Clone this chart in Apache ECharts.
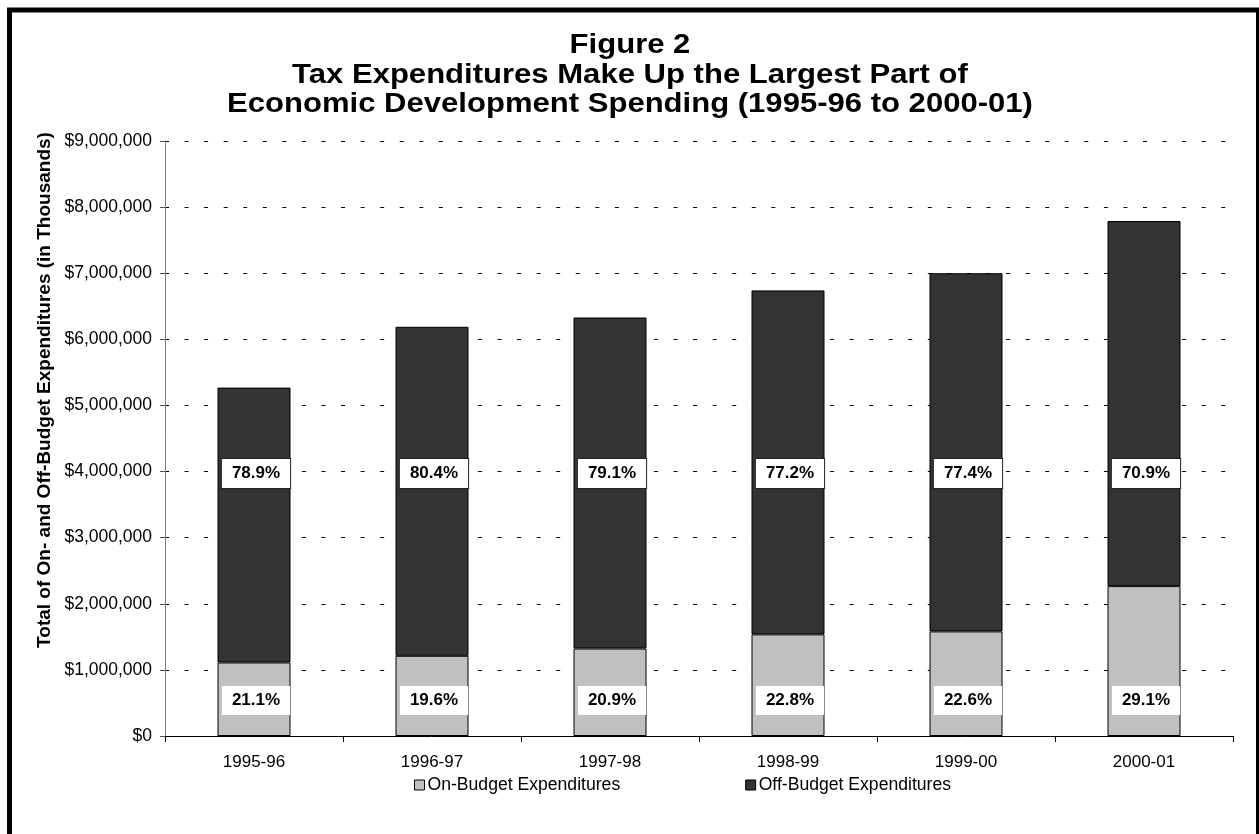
<!DOCTYPE html>
<html>
<head>
<meta charset="utf-8">
<title>Figure 2</title>
<script src="https://cdn.jsdelivr.net/npm/echarts@6/dist/echarts.min.js"></script>
<style>
  html, body { margin: 0; padding: 0; background: #fff; }
  #chart { width: 1259px; height: 834px; }
</style>
</head>
<body>
<div id="chart"></div>
<script>
// Fiscal years shown on the category axis
const categories = ['1995-96', '1996-97', '1997-98', '1998-99', '1999-00', '2000-01'];

// Spending in thousands of dollars
const onBudget  = [1112000, 1213000, 1323000, 1537000, 1582000, 2267000];
const offBudget = [4158000, 4977000, 5007000, 5203000, 5418000, 5523000];

// Value axis ticks
const yTicks = [0, 1000000, 2000000, 3000000, 4000000, 5000000, 6000000, 7000000, 8000000, 9000000];

// Height at which the off-budget share labels sit
const OFF_LABEL_LEVEL = 4000000;

const TITLE_LINES = [
  'Figure 2',
  'Tax Expenditures Make Up the Largest Part of',
  'Economic Development Spending (1995-96 to 2000-01)'
];

const FONT = "'Liberation Sans', Arial, Helvetica, sans-serif";

function share(part, i) {
  return (part / (onBudget[i] + offBudget[i]) * 100).toFixed(1) + '%';
}

const labelBox = {
  fontFamily: FONT,
  fontSize: 17,
  fontWeight: 'bold',
  color: '#000',
  backgroundColor: '#fff',
  padding: [6, 10],
  lineHeight: 17
};

const chart = echarts.init(document.getElementById('chart'), null, { renderer: 'canvas' });

chart.setOption({
  animation: false,
  backgroundColor: '#fff',
  textStyle: { fontFamily: FONT },
  graphic: [
    {
      // frame around the figure
      type: 'rect',
      silent: true,
      shape: { x: 9.5, y: 10, width: 1249, height: 900 },
      style: { fill: 'none', stroke: '#000', lineWidth: 5 }
    },
    {
      // wide bold heading, centred over the figure
      type: 'text',
      silent: true,
      x: 630,
      y: 31,
      scaleX: 1.15,
      style: {
        text: TITLE_LINES.join('\n'),
        fontFamily: FONT,
        fontSize: 27,
        fontWeight: 'bold',
        lineHeight: 29.5,
        fill: '#000',
        align: 'center',
        verticalAlign: 'top'
      }
    },
    {
      // value axis title
      type: 'text',
      silent: true,
      x: 45,
      y: 390,
      rotation: Math.PI / 2,
      style: {
        text: 'Total of On- and Off-Budget Expenditures (in Thousands)',
        fontFamily: FONT,
        fontSize: 19,
        fontWeight: 'bold',
        fill: '#000',
        align: 'center',
        verticalAlign: 'middle'
      }
    }
  ],
  legend: {
    data: ['On-Budget Expenditures', 'Off-Budget Expenditures'],
    left: 409,
    top: 771,
    itemGap: 125,
    itemWidth: 10,
    itemHeight: 10,
    icon: 'rect',
    itemStyle: { borderColor: '#000', borderWidth: 1 },
    textStyle: { fontFamily: FONT, fontSize: 17.6, color: '#000', padding: [0, 0, 0, -2] }
  },
  grid: { left: 165, right: 26, top: 141, bottom: 98, containLabel: false },
  xAxis: {
    type: 'category',
    data: categories,
    boundaryGap: true,
    axisLine: { lineStyle: { color: '#000', width: 1 } },
    axisTick: { show: true, alignWithLabel: false, length: 6, lineStyle: { color: '#000' } },
    axisLabel: { fontFamily: FONT, fontSize: 17, color: '#000', margin: 18 }
  },
  yAxis: {
    type: 'value',
    min: yTicks[0],
    max: yTicks[yTicks.length - 1],
    interval: yTicks[1] - yTicks[0],
    axisLine: { show: true, lineStyle: { color: '#808080', width: 1 } },
    axisTick: { show: true, length: 5, lineStyle: { color: '#555' } },
    axisLabel: {
      fontFamily: FONT,
      fontSize: 17.5,
      color: '#000',
      margin: 13,
      formatter: v => '$' + v.toLocaleString('en-US')
    },
    splitLine: {
      show: true,
      lineStyle: { color: '#000', width: 1, type: [4, 15.56] }
    }
  },
  series: [
    {
      name: 'On-Budget Expenditures',
      type: 'bar',
      stack: 'total',
      barWidth: 73,
      data: onBudget,
      itemStyle: { color: '#c0c0c0', borderColor: '#000', borderWidth: 1 },
      label: {
        show: true,
        position: 'insideBottom',
        distance: 21,
        offset: [2, 0],
        ...labelBox,
        formatter: p => share(onBudget[p.dataIndex], p.dataIndex)
      },
      z: 3
    },
    {
      name: 'Off-Budget Expenditures',
      type: 'bar',
      stack: 'total',
      barWidth: 73,
      data: offBudget,
      itemStyle: { color: '#333333', borderColor: '#000', borderWidth: 1 },
      z: 3
    },
    {
      name: 'offShare',
      type: 'scatter',
      silent: true,
      symbol: 'rect',
      symbolSize: 1,
      data: categories.map(() => OFF_LABEL_LEVEL),
      itemStyle: { color: 'rgba(0,0,0,0)', opacity: 1 },
      label: {
        show: true,
        position: 'inside',
        offset: [2, 2],
        ...labelBox,
        borderColor: '#222',
        borderWidth: 1,
        formatter: p => share(offBudget[p.dataIndex], p.dataIndex)
      },
      z: 5
    }
  ]
});
</script>
</body>
</html>
